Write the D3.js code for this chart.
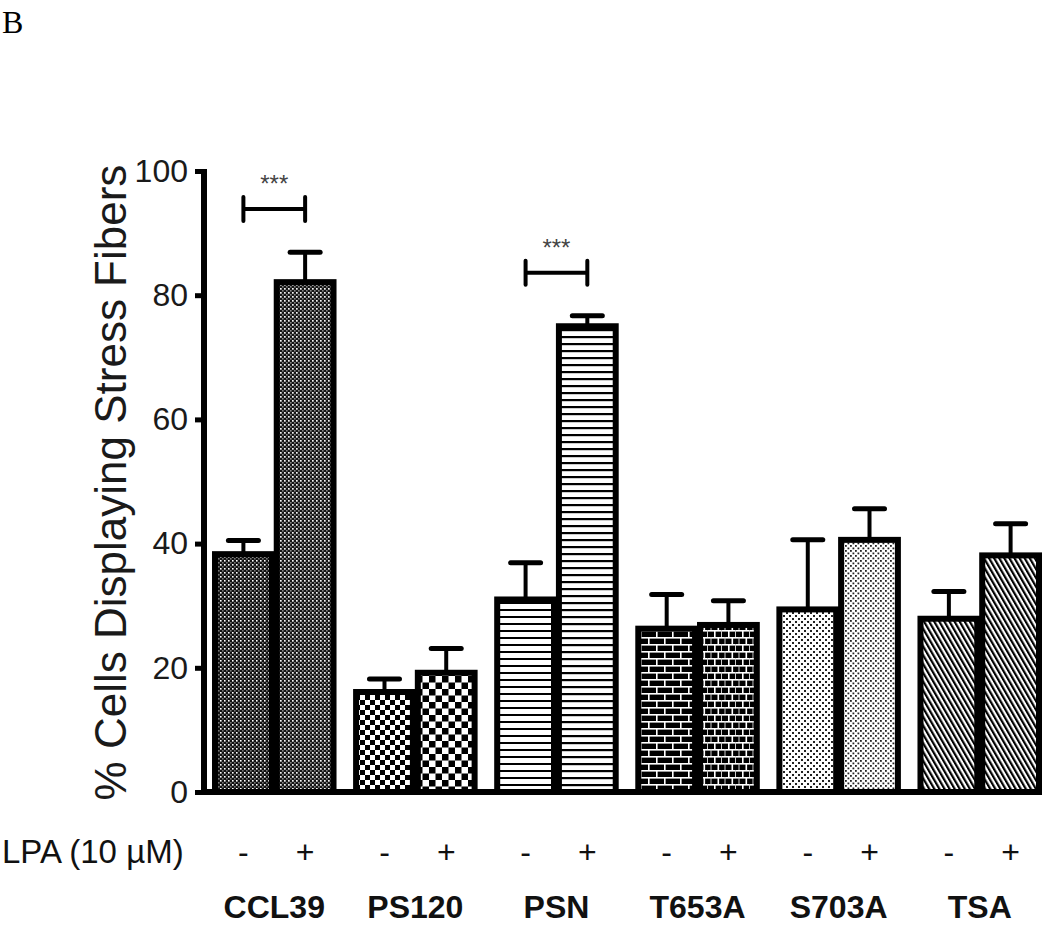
<!DOCTYPE html>
<html>
<head>
<meta charset="utf-8">
<script src="https://cdn.jsdelivr.net/npm/d3@7"></script>
<style>
  html, body { margin: 0; padding: 0; background: #fff; }
  svg { display: block; }
</style>
</head>
<body>
<svg id="chart" width="1050" height="926"></svg>
<script>
// ---- data ----
const groups = ["CCL39", "PS120", "PSN", "T653A", "S703A", "TSA"];
const lpaLevels = ["-", "+"];
const meanMinus = [38.3, 16.1, 31.0, 26.3, 29.4, 27.9];
const meanPlus  = [82.1, 19.2, 75.0, 26.9, 40.6, 38.1];
const semMinus  = [2.2, 2.1, 5.9, 5.5, 11.2, 4.4];
const semPlus   = [4.8, 3.9, 1.7, 3.9, 5.0, 5.1];
const yTicks = [0, 20, 40, 60, 80, 100];
const sigGroups = ["CCL39", "PSN"];
const sigLevels = [93.9, 83.6];
const sigLabels = ["***", "***"];
const panelLabel = "B";
const yTitle = "% Cells Displaying Stress Fibers";
const lpaTitle = "LPA (10 \u00B5M)";

// ---- build ----
const svg = d3.select("#chart");
const defs = svg.append("defs");

function pat(id, w, h, draw, transform) {
  const p = defs.append("pattern").attr("id", id)
    .attr("patternUnits", "userSpaceOnUse").attr("width", w).attr("height", h);
  if (transform) p.attr("patternTransform", transform);
  draw(p);
}
// CCL39: dark dither with white dots
pat("p0a", 4, 4, p => {
  p.append("rect").attr("width", 4).attr("height", 4).attr("fill", "#111");
  p.append("rect").attr("x", 0).attr("y", 0).attr("width", 1.6).attr("height", 1.6).attr("fill", "#fff");
  p.append("rect").attr("x", 2).attr("y", 2).attr("width", 1.6).attr("height", 1.6).attr("fill", "#777");
});
pat("p0b", 4, 4, p => {
  p.append("rect").attr("width", 4).attr("height", 4).attr("fill", "#161616");
  p.append("rect").attr("x", 0).attr("y", 0).attr("width", 1.7).attr("height", 1.7).attr("fill", "#f4f4f4");
  p.append("rect").attr("x", 2).attr("y", 2).attr("width", 1.6).attr("height", 1.6).attr("fill", "#888");
});
// PS120: checkerboards
function checker(id, s) {
  pat(id, 2 * s, 2 * s, p => {
    p.append("rect").attr("width", 2 * s).attr("height", 2 * s).attr("fill", "#fff");
    p.append("rect").attr("x", 0).attr("y", 0).attr("width", s).attr("height", s).attr("fill", "#000");
    p.append("rect").attr("x", s).attr("y", s).attr("width", s).attr("height", s).attr("fill", "#000");
  });
}
checker("p1a", 5);
checker("p1b", 6.5);
// PSN: horizontal lines
function hlines(id, period, th) {
  pat(id, 8, period, p => {
    p.append("rect").attr("width", 8).attr("height", period).attr("fill", "#fff");
    p.append("rect").attr("y", 0).attr("width", 8).attr("height", th).attr("fill", "#000");
  });
}
hlines("p2a", 7, 2);
hlines("p2b", 7, 2.2);
// T653A: bricks
pat("p3a", 16, 14, p => {
  p.append("rect").attr("width", 16).attr("height", 14).attr("fill", "#000");
  p.append("rect").attr("y", 0).attr("width", 16).attr("height", 1.6).attr("fill", "#fff");
  p.append("rect").attr("y", 7).attr("width", 16).attr("height", 1.6).attr("fill", "#fff");
  p.append("rect").attr("x", 0).attr("y", 0).attr("width", 1.6).attr("height", 7).attr("fill", "#fff");
  p.append("rect").attr("x", 8).attr("y", 7).attr("width", 1.6).attr("height", 7).attr("fill", "#fff");
});
pat("p3b", 14, 14, p => {
  p.append("rect").attr("width", 14).attr("height", 14).attr("fill", "#000");
  p.append("rect").attr("y", 0).attr("width", 14).attr("height", 1.6).attr("fill", "#fff");
  p.append("rect").attr("y", 7).attr("width", 14).attr("height", 1.6).attr("fill", "#fff");
  p.append("rect").attr("x", 0).attr("y", 0).attr("width", 1.6).attr("height", 7).attr("fill", "#fff");
  p.append("rect").attr("x", 7).attr("y", 0).attr("width", 1).attr("height", 7).attr("fill", "#ccc");
  p.append("rect").attr("x", 3.5).attr("y", 7).attr("width", 1.6).attr("height", 7).attr("fill", "#fff");
  p.append("rect").attr("x", 10.5).attr("y", 7).attr("width", 1).attr("height", 7).attr("fill", "#ccc");
});
// S703A: dotted light
function dots(id, s, d) {
  pat(id, s, s, p => {
    p.append("rect").attr("width", s).attr("height", s).attr("fill", "#fff");
    p.append("rect").attr("x", 0).attr("y", 0).attr("width", d).attr("height", d).attr("fill", "#222");
    p.append("rect").attr("x", s / 2).attr("y", s / 2).attr("width", d).attr("height", d).attr("fill", "#222");
  });
}
dots("p4a", 6, 2);
dots("p4b", 5, 1.8);
// TSA: diagonal stripes
function diag(id, w) {
  pat(id, w, 10, p => {
    p.append("rect").attr("width", w).attr("height", 10).attr("fill", "#fff");
    p.append("rect").attr("width", w / 2).attr("height", 10).attr("fill", "#000");
  }, "rotate(-30)");
}
diag("p5a", 4.4);
diag("p5b", 4.4);

const patterns = {
  "CCL39": ["p0a", "p0b"], "PS120": ["p1a", "p1b"], "PSN": ["p2a", "p2b"],
  "T653A": ["p3a", "p3b"], "S703A": ["p4a", "p4b"], "TSA": ["p5a", "p5b"]
};

const y = d3.scaleLinear().domain([0, 100]).range([792, 171]);
const x = d3.scaleBand().domain(groups).range([215, 1039]).paddingInner(0.16).paddingOuter(0);
const xs = d3.scaleBand().domain(lpaLevels).range([0, x.bandwidth()]).paddingInner(0.08).paddingOuter(0);

const rows = [];
groups.forEach((g, i) => {
  rows.push({ g, lvl: "-", mean: meanMinus[i], sem: semMinus[i], pat: patterns[g][0] });
  rows.push({ g, lvl: "+", mean: meanPlus[i], sem: semPlus[i], pat: patterns[g][1] });
});
const cx = d => x(d.g) + xs(d.lvl) + xs.bandwidth() / 2;

// error bars
const eb = svg.append("g");
eb.selectAll("line.stem").data(rows).join("line").attr("class", "stem")
  .attr("x1", cx).attr("x2", cx)
  .attr("y1", d => y(d.mean)).attr("y2", d => y(d.mean + d.sem))
  .attr("stroke", "#000").attr("stroke-width", 4);
eb.selectAll("line.cap").data(rows).join("line").attr("class", "cap")
  .attr("x1", d => cx(d) - 15).attr("x2", d => cx(d) + 15)
  .attr("y1", d => y(d.mean + d.sem)).attr("y2", d => y(d.mean + d.sem))
  .attr("stroke", "#000").attr("stroke-width", 5).attr("stroke-linecap", "round");

// bars
svg.append("g").selectAll("rect").data(rows).join("rect")
  .attr("x", d => x(d.g) + xs(d.lvl))
  .attr("width", xs.bandwidth())
  .attr("y", d => y(d.mean))
  .attr("height", d => y(0) - y(d.mean))
  .attr("fill", d => `url(#${d.pat})`)
  .attr("stroke", "#000").attr("stroke-width", 6);

// x axis line
svg.append("line")
  .attr("x1", 201).attr("x2", x.range()[1] + 2)
  .attr("y1", y(0)).attr("y2", y(0))
  .attr("stroke", "#000").attr("stroke-width", 6);

// y axis
const yAxis = svg.append("g").attr("transform", "translate(204,0)")
  .call(d3.axisLeft(y).tickValues(yTicks).tickSize(9).tickSizeOuter(0).tickPadding(7).tickFormat(d3.format("d")));
yAxis.select(".domain").attr("stroke", "#000").attr("stroke-width", 6)
  .attr("d", `M0,${y(100) - 2}V${y(0) + 3}`);
yAxis.selectAll(".tick line").attr("stroke", "#000").attr("stroke-width", 5);
yAxis.selectAll(".tick text").attr("font-family", "'Liberation Sans', Arial, sans-serif")
  .attr("font-size", 32).attr("fill", "#1a1a1a");

// y title
svg.append("text")
  .attr("transform", `translate(126,${(y(0) + y(100)) / 2 + 1}) rotate(-90)`)
  .attr("text-anchor", "middle")
  .attr("font-family", "'Liberation Sans', Arial, sans-serif")
  .attr("font-size", 44).attr("fill", "#1a1a1a")
  .text(yTitle);

// LPA row
svg.append("text").attr("x", 2).attr("y", 863)
  .attr("font-family", "'Liberation Sans', Arial, sans-serif")
  .attr("font-size", 33).attr("fill", "#111").text(lpaTitle);
svg.append("g").selectAll("text").data(rows).join("text")
  .attr("x", cx).attr("y", 863).attr("text-anchor", "middle")
  .attr("font-family", "'Liberation Sans', Arial, sans-serif")
  .attr("font-size", 32).attr("fill", "#111")
  .text(d => d.lvl);

// group labels
svg.append("g").selectAll("text").data(groups).join("text")
  .attr("x", g => x(g) + x.bandwidth() / 2).attr("y", 918).attr("text-anchor", "middle")
  .attr("font-family", "'Liberation Sans', Arial, sans-serif")
  .attr("font-weight", "bold")
  .attr("font-size", 32).attr("fill", "#111")
  .text(g => g);

// significance brackets
const sig = svg.append("g");
sigGroups.forEach((g, i) => {
  const x1 = x(g) + xs("-") + xs.bandwidth() / 2;
  const x2 = x(g) + xs("+") + xs.bandwidth() / 2;
  const yy = y(sigLevels[i]);
  sig.append("line").attr("x1", x1).attr("x2", x2).attr("y1", yy).attr("y2", yy)
    .attr("stroke", "#000").attr("stroke-width", 4);
  [x1, x2].forEach(xx => sig.append("line").attr("x1", xx).attr("x2", xx)
    .attr("y1", yy - 12).attr("y2", yy + 12)
    .attr("stroke", "#000").attr("stroke-width", 4).attr("stroke-linecap", "round"));
  sig.append("text").attr("x", (x1 + x2) / 2).attr("y", yy - 17).attr("text-anchor", "middle")
    .attr("font-family", "'Liberation Sans', Arial, sans-serif")
    .attr("font-size", 24).attr("fill", "#444").text(sigLabels[i]);
});

// panel label
svg.append("text").attr("x", 2).attr("y", 33)
  .attr("font-family", "'Liberation Serif', 'Times New Roman', serif")
  .attr("font-size", 32).attr("fill", "#000").text(panelLabel);
</script>
</body>
</html>
